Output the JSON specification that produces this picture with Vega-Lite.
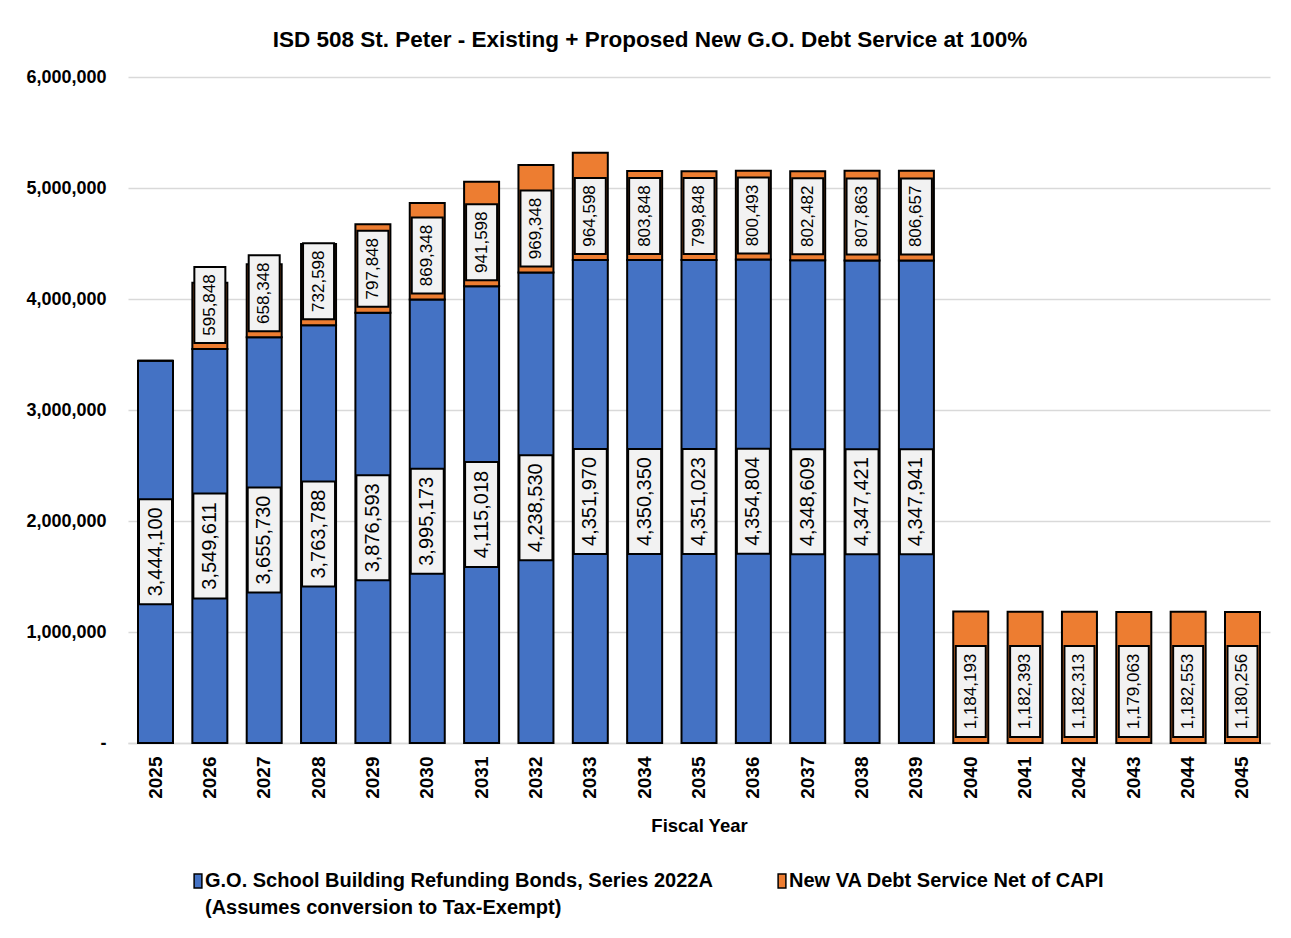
{
  "$schema": "https://vega.github.io/schema/vega-lite/v6.json",
  "autosize": {"type": "none"},
  "width": 1142,
  "height": 666,
  "padding": {"left": 128, "top": 77, "right": 21, "bottom": 195},
  "background": "white",
  "title": {
    "text": "ISD 508 St. Peter - Existing + Proposed New G.O. Debt Service at 100%",
    "font": "Liberation Sans",
    "fontSize": 22.5,
    "fontWeight": "bold",
    "color": "black",
    "anchor": "middle",
    "dx": -49,
    "offset": 17
  },
  "data": {
    "values": [
      {"year": 2025, "go": 3444100, "va": 0},
      {"year": 2026, "go": 3549611, "va": 595848},
      {"year": 2027, "go": 3655730, "va": 658348},
      {"year": 2028, "go": 3763788, "va": 732598},
      {"year": 2029, "go": 3876593, "va": 797848},
      {"year": 2030, "go": 3995173, "va": 869348},
      {"year": 2031, "go": 4115018, "va": 941598},
      {"year": 2032, "go": 4238530, "va": 969348},
      {"year": 2033, "go": 4351970, "va": 964598},
      {"year": 2034, "go": 4350350, "va": 803848},
      {"year": 2035, "go": 4351023, "va": 799848},
      {"year": 2036, "go": 4354804, "va": 800493},
      {"year": 2037, "go": 4348609, "va": 802482},
      {"year": 2038, "go": 4347421, "va": 807863},
      {"year": 2039, "go": 4347941, "va": 806657},
      {"year": 2040, "go": 0, "va": 1184193},
      {"year": 2041, "go": 0, "va": 1182393},
      {"year": 2042, "go": 0, "va": 1182313},
      {"year": 2043, "go": 0, "va": 1179063},
      {"year": 2044, "go": 0, "va": 1182553},
      {"year": 2045, "go": 0, "va": 1180256}
    ]
  },
  "encoding": {
    "x": {
      "field": "year",
      "type": "ordinal",
      "scale": {"paddingInner": 0.356, "paddingOuter": 0.184},
      "axis": {
        "title": "Fiscal Year",
        "titleFont": "Liberation Sans",
        "titleFontSize": 18.5,
        "titleFontWeight": "bold",
        "titleColor": "black",
        "titlePadding": 18,
        "labelAngle": 270,
        "labelFont": "Liberation Sans",
        "labelFontSize": 19,
        "labelFontWeight": "bold",
        "labelColor": "black",
        "labelPadding": 13,
        "ticks": false,
        "domainColor": "#D9D9D9",
        "domainWidth": 1.5,
        "grid": false
      }
    }
  },
  "layer": [
    {
      "transform": [{"fold": ["go", "va"], "as": ["series", "amount"]}],
      "mark": {"type": "bar", "stroke": "black", "strokeWidth": 2},
      "encoding": {
        "y": {
          "field": "amount",
          "type": "quantitative",
          "stack": "zero",
          "scale": {"domain": [0, 6000000], "nice": false},
          "axis": {
            "title": null,
            "values": [0, 1000000, 2000000, 3000000, 4000000, 5000000, 6000000],
            "labelExpr": "datum.value === 0 ? '-' : format(datum.value, ',')",
            "labelFont": "Liberation Sans",
            "labelFontSize": 18,
            "labelFontWeight": "bold",
            "labelColor": "black",
            "labelPadding": 22,
            "ticks": false,
            "domain": false,
            "gridColor": "#D9D9D9",
            "gridWidth": 1.5
          }
        },
        "order": {"field": "series", "sort": "ascending"},
        "color": {
          "field": "series",
          "type": "nominal",
          "scale": {"domain": ["go", "va"], "range": ["#4472C4", "#ED7D31"]},
          "legend": {
            "orient": "none",
            "legendX": 60,
            "legendY": 794,
            "direction": "horizontal",
            "title": null,
            "labelExpr": "datum.value === 'go' ? ['G.O. School Building Refunding Bonds, Series 2022A', '(Assumes conversion to Tax-Exempt)'] : ['New VA Debt Service Net of CAPI', ' ']",
            "labelFont": "Liberation Sans",
            "labelFontSize": 20,
            "labelFontWeight": "bold",
            "labelColor": "black",
            "labelLimit": 700,
            "labelOffset": -3,
            "symbolType": "M-0.55,-1H0.55V1H-0.55Z",
            "symbolSize": 200,
            "symbolStrokeColor": "black",
            "symbolStrokeWidth": 1.5,
            "symbolOpacity": 1,
            "columnPadding": 59
          }
        }
      }
    },
    {
      "transform": [
        {"fold": ["go", "va"], "as": ["series", "amount"]},
        {"stack": "amount", "groupby": ["year"], "sort": [{"field": "series", "order": "ascending"}], "as": ["lo", "hi"]},
        {"filter": "datum.series === 'go' && datum.amount > 0"},
        {"fold": ["lo", "hi"], "as": ["edge", "pos"]}
      ],
      "layer": [
        {
          "mark": {"type": "point", "shape": "M-0.33,-1.05H0.33V1.05H-0.33Z", "size": 10000, "filled": true, "fill": "#F2F2F2", "stroke": "black", "strokeWidth": 2, "opacity": 1},
          "encoding": {
            "y": {"aggregate": "mean", "field": "pos", "type": "quantitative", "axis": {"title": null}}
          }
        },
        {
          "mark": {"type": "text", "angle": 270, "align": "center", "baseline": "middle", "font": "Liberation Sans", "fontSize": 20, "color": "black"},
          "encoding": {
            "y": {"aggregate": "mean", "field": "pos", "type": "quantitative", "axis": {"title": null}},
            "text": {"aggregate": "max", "field": "amount", "type": "quantitative", "format": ","}
          }
        }
      ]
    },
    {
      "transform": [{"filter": "datum.va > 0 && datum.va < 1000000"}],
      "layer": [
        {
          "mark": {"type": "point", "shape": "M-0.31,-0.76H0.31V0.76H-0.31Z", "size": 10000, "filled": true, "fill": "#F2F2F2", "stroke": "black", "strokeWidth": 2, "opacity": 1, "yOffset": -44},
          "encoding": {"y": {"field": "go", "type": "quantitative", "axis": {"title": null}}}
        },
        {
          "mark": {"type": "text", "angle": 270, "align": "center", "baseline": "middle", "font": "Liberation Sans", "fontSize": 17, "color": "black", "yOffset": -44},
          "encoding": {
            "y": {"field": "go", "type": "quantitative", "axis": {"title": null}},
            "text": {"field": "va", "type": "quantitative", "format": ","}
          }
        }
      ]
    },
    {
      "transform": [{"filter": "datum.va >= 1000000"}],
      "layer": [
        {
          "mark": {"type": "point", "shape": "M-0.3,-0.91H0.3V0.91H-0.3Z", "size": 10000, "filled": true, "fill": "#F2F2F2", "stroke": "black", "strokeWidth": 2, "opacity": 1, "yOffset": -51.5},
          "encoding": {"y": {"field": "go", "type": "quantitative", "axis": {"title": null}}}
        },
        {
          "mark": {"type": "text", "angle": 270, "align": "center", "baseline": "middle", "font": "Liberation Sans", "fontSize": 17, "color": "black", "yOffset": -51.5},
          "encoding": {
            "y": {"field": "go", "type": "quantitative", "axis": {"title": null}},
            "text": {"field": "va", "type": "quantitative", "format": ","}
          }
        }
      ]
    }
  ],
  "config": {
    "view": {"stroke": null},
    "style": {"guide-label": {"lineHeight": 27}}
  }
}
